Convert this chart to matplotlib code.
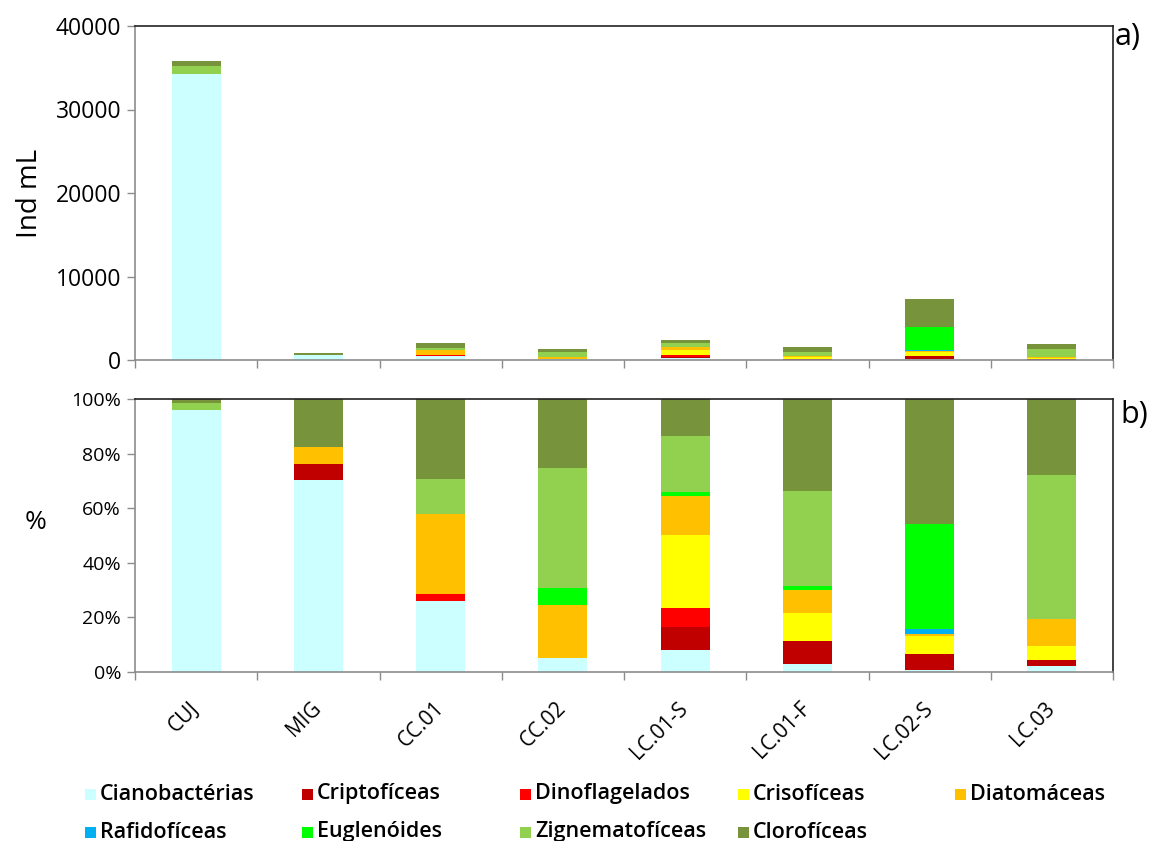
import numpy as np
import matplotlib
matplotlib.use("Agg")
import matplotlib.pyplot as plt
from matplotlib.patches import Rectangle
from matplotlib.ticker import PercentFormatter, FixedLocator, NullFormatter

plt.rcParams["font.family"] = ["Open Sans", "DejaVu Sans"]

# Sampling sites
sites = ["CUJ", "MIG", "CC.01", "CC.02", "LC.01-S", "LC.01-F", "LC.02-S", "LC.03"]

# Total density per site (Ind mL)
totals = [35800, 800, 2000, 1300, 2400, 1500, 7300, 1900]

# Relative composition per group (% of total density)
cianobacterias = [95.8, 70.2, 25.9, 5.1, 8.1, 3.1, 0.9, 2.1]
criptoficeas = [0.0, 6.0, 0.0, 0.0, 8.3, 8.4, 5.7, 2.4]
dinoflagelados = [0.0, 0.0, 2.7, 0.0, 7.1, 0.0, 0.0, 0.0]
crisoficeas = [0.0, 0.0, 0.0, 0.0, 26.9, 10.1, 6.5, 5.1]
diatomaceas = [0.0, 6.1, 29.3, 19.3, 14.0, 8.3, 1.0, 9.9]
rafidoficeas = [0.0, 0.0, 0.0, 0.0, 0.0, 0.0, 1.8, 0.0]
euglenoides = [0.0, 0.0, 0.0, 6.3, 1.5, 1.5, 38.5, 0.0]
zignematoficeas = [2.6, 0.0, 12.8, 44.0, 20.5, 34.8, 0.0, 52.7]
cloroficeas = [1.6, 17.7, 29.3, 25.3, 13.7, 33.8, 45.7, 27.7]

group_names = ["Cianobactérias", "Criptofíceas", "Dinoflagelados", "Crisofíceas",
               "Diatomáceas", "Rafidofíceas", "Euglenóides", "Zignematofíceas",
               "Clorofíceas"]
group_values = [cianobacterias, criptoficeas, dinoflagelados, crisoficeas,
                diatomaceas, rafidoficeas, euglenoides, zignematoficeas,
                cloroficeas]
group_colors = ["#CCFFFF", "#C00000", "#FF0000", "#FFFF00", "#FFC000",
                "#00B0F0", "#00FF00", "#92D050", "#77933C"]

pct = np.array(group_values, dtype=float)
pct = pct / pct.sum(axis=0) * 100.0
dens = pct / 100.0 * np.array(totals, dtype=float)

W, H = 1155, 841
fig = plt.figure(figsize=(W / 100, H / 100), dpi=100)
left, right = 135 / W, 1113 / W
ax1 = fig.add_axes([left, 1 - 360 / H, right - left, (360 - 26) / H])
ax2 = fig.add_axes([left, 1 - 672 / H, right - left, (672 - 399) / H])

x = np.arange(len(sites))
bw = 0.4


def stacked(ax, data):
    bottom = np.zeros(len(sites))
    for vals, col in zip(data, group_colors):
        ax.bar(x, vals, bw, bottom=bottom, color=col, edgecolor="none", zorder=2)
        bottom += vals


stacked(ax1, dens)
stacked(ax2, pct)

grey = "#8C8C8C"
for ax in (ax1, ax2):
    ax.set_xlim(-0.5, len(sites) - 0.5)
    ax.spines["left"].set_color(grey)
    ax.spines["bottom"].set_color(grey)
    ax.spines["top"].set_color("#222222")
    ax.spines["right"].set_color("#222222")
    for s in ax.spines.values():
        s.set_linewidth(1.2)
    ax.xaxis.set_major_locator(FixedLocator(np.arange(-0.5, len(sites), 1.0)))
    ax.xaxis.set_major_formatter(NullFormatter())
    ax.tick_params(axis="both", which="major", direction="out", length=6,
                   width=1.0, color=grey, labelcolor="black")
    ax.tick_params(axis="x", which="minor", length=0)

ax1.set_ylim(0, 40000)
ax1.set_yticks([0, 10000, 20000, 30000, 40000])
ax1.tick_params(axis="y", labelsize=16.5, pad=4)
ax1.set_ylabel("Ind mL", fontsize=20, va="center", ha="center")
ax1.yaxis.set_label_coords(-0.107, 0.5)

ax2.set_ylim(0, 100)
ax2.set_yticks([0, 20, 40, 60, 80, 100])
ax2.yaxis.set_major_formatter(PercentFormatter(decimals=0))
ax2.tick_params(axis="y", labelsize=14, pad=4)
ax2.set_ylabel("%", fontsize=19, rotation=0, va="center", ha="center")
ax2.yaxis.set_label_coords(-0.102, 0.546)

ax2.set_xticks(x, minor=True)
ax2.set_xticklabels(sites, minor=True, rotation=45, ha="right", va="center",
                    rotation_mode="anchor", fontsize=15)
ax2.tick_params(axis="x", which="minor", pad=24)

fig.text(1115 / W, 1 - 37 / H, "a)", fontsize=22, va="center", ha="left")
fig.text(1120 / W, 1 - 415 / H, "b)", fontsize=22, va="center", ha="left")

# Legend: five columns, two rows of square swatches
col_x = [85, 302, 520, 738, 955]
row_y = [794, 832]
sq = 11
for i, (name, col) in enumerate(zip(group_names, group_colors)):
    cx = col_x[i % 5]
    cy = row_y[i // 5]
    fig.patches.append(Rectangle((cx / W, 1 - (cy + sq / 2) / H), sq / W, sq / H,
                                 transform=fig.transFigure, facecolor=col,
                                 edgecolor="none"))
    fig.text((cx + sq + 4) / W, 1 - cy / H, name, fontsize=15.5,
             fontweight="semibold", va="center", ha="left")

fig.savefig("out.png", dpi=100)
